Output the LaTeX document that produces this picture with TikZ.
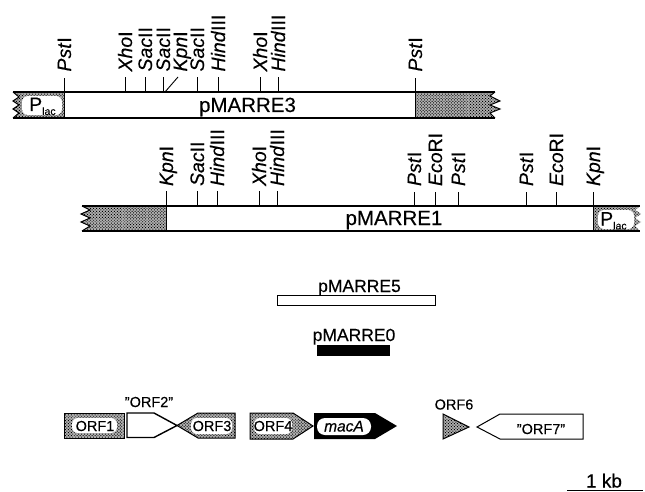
\documentclass[tikz,border=0pt]{standalone}
\usepackage{fontspec}
\setmainfont[FakeBold=0.3]{Liberation Sans}
\usetikzlibrary{patterns.meta}
\newcommand{\fsz}[1]{\fontsize{#1}{#1}\selectfont}
\newcommand{\ez}[2]{\textit{#1}#2}
\newcommand{\plac}{P\raisebox{-0.2em}{\fsz{10.5}lac}}
\tikzset{
  x=1pt,y=-1pt,
  lbl/.style={inner sep=0pt,outer sep=0pt,anchor=west,rotate=90,font=\fsz{19.5},text height=14pt,text depth=0pt},
  plasmid/.style={font=\fsz{20.5},inner sep=0pt,anchor=base},
  sub/.style={font=\fsz{17.5},inner sep=0pt,anchor=base},
  orf/.style={font=\fsz{14.5},inner sep=0pt,anchor=base},
  tick/.style={line width=0.9pt},
  edge/.style={line width=1.4pt},
  stip/.style={fill=black!30,postaction={pattern={Dots[radius=0.68pt,distance=2.1pt,angle=45]},pattern color=black}},
  hole/.style={fill=white,draw=none,rounded corners=6pt},
}
\newcommand{\site}[6]{% name, x, ybox, ytick, ylabel, text
  \coordinate (#1b) at (#2,#3);
  \coordinate (#1t) at (#2,#4);
  \node[lbl] (#1) at (#2,#5) {#6};
  \draw[tick] (#1b) -- (#1t);
}
\begin{document}
\begin{tikzpicture}
\useasboundingbox (0,0) rectangle (645,492);
% ---------- pMARRE3
\path[stip] (64,92) -- (13,92) -- (19,97) -- (13,101) -- (19,105) -- (13,109) -- (19,113) -- (13,118) -- (64,118) -- cycle;
\draw[line width=1pt] (13,92) -- (19,97) -- (13,101) -- (19,105) -- (13,109) -- (19,113) -- (13,118);
\path[stip] (415,92) -- (495,92) -- (490,96) -- (500,101) -- (490,105) -- (500,109) -- (490,113) -- (495,118) -- (415,118) -- cycle;
\draw[line width=1pt] (495,92) -- (490,96) -- (500,101) -- (490,105) -- (500,109) -- (490,113) -- (495,118);
\draw[edge] (13,92) -- (495,92) (13,118) -- (495,118);
\draw[tick] (64,92) -- (64,118) (415,92) -- (415,118);
\fill[hole] (22,96) rectangle (62,115);
\node[plasmid,anchor=base west,font=\fsz{19.5}] (p3lac) at (29,111) {\plac};
\node[plasmid] (p3) at (247.5,112) {pMARRE3};
\site{a1}{64}{92}{78}{71.5}{\ez{Pst}{I}}
\site{a2}{125}{92}{77}{71.5}{\ez{Xho}{I}}
\site{a3}{145}{92}{77}{71.5}{\ez{Sac}{II}}
\site{a4}{197}{92}{77}{71.5}{\ez{Sac}{II}}
\site{a5}{218}{92}{77}{71.5}{\ez{Hind}{III}}
\site{a6}{260}{92}{77}{71.5}{\ez{Xho}{I}}
\site{a7}{278}{92}{77}{71.5}{\ez{Hind}{III}}
\site{a8}{415}{92}{78}{71.5}{\ez{Pst}{I}}
\site{a9}{163}{92}{77}{71.5}{\ez{Sac}{II}}
\coordinate (k1) at (165,92);
\coordinate (k2) at (178,77);
\draw[tick] (k1) -- (k2);
\node[lbl] (a10) at (180,71.5) {\ez{Kpn}{I}};
% ---------- pMARRE1
\path[stip] (166,206) -- (82,206) -- (90,210) -- (81,214) -- (90,218) -- (81,222) -- (90,226) -- (82,231) -- (166,231) -- cycle;
\draw[line width=1pt] (82,206) -- (90,210) -- (81,214) -- (90,218) -- (81,222) -- (90,226) -- (82,231);
\path[stip] (593,206) -- (640,206) -- (635,210) -- (641,214) -- (635,218) -- (641,222) -- (635,226) -- (640,231) -- (593,231) -- cycle;
\draw[edge] (82,206) -- (640,206) (82,231) -- (640,231);
\draw[tick] (166,192) -- (166,231) (593,192) -- (593,231);
\fill[hole] (598,210) rectangle (634,229);
\node[plasmid,anchor=base west,font=\fsz{19.5}] (p1lac) at (600,225.5) {\plac};
\node[plasmid] (p1) at (394,225) {pMARRE1};
\site{b1}{166}{206}{191}{186}{\ez{Kpn}{I}}
\site{b2}{197}{206}{191}{186}{\ez{Sac}{II}}
\site{b3}{217}{206}{191}{186}{\ez{Hind}{III}}
\site{b4}{259}{206}{191}{186}{\ez{Xho}{I}}
\site{b5}{277}{206}{191}{186}{\ez{Hind}{III}}
\site{b6}{414}{206}{192}{186}{\ez{Pst}{I}}
\site{b7}{435}{206}{192}{186}{\ez{Eco}{RI}}
\site{b8}{458}{206}{192}{186}{\ez{Pst}{I}}
\site{b9}{526}{206}{192}{186}{\ez{Pst}{I}}
\site{b10}{556}{206}{192}{186}{\ez{Eco}{RI}}
\site{b11}{593}{206}{192}{186}{\ez{Kpn}{I}}
% ---------- subclones
\node[sub] (p5) at (359.5,292) {pMARRE5};
\draw[line width=1pt] (277,295) rectangle (435,305);
\node[sub] (p0) at (354,341) {pMARRE0};
\fill[black] (317,345) rectangle (390,356);
% ---------- ORFs
\path[stip,draw=black,line width=0.8pt] (64,413) rectangle (124,438);
\fill[hole] (72,418) rectangle (117,433);
\node[orf] (o1) at (95,431) {ORF1};
\node[orf] (o2) at (149,407) {"ORF2"};
\draw[edge,fill=white,line join=miter] (127,413) -- (154,413) -- (177,425.5) -- (154,437.5) -- (127,437.5) -- cycle;
\path[stip,draw=black,line width=1pt] (177,425.5) -- (198,413) -- (235,413) -- (235,438) -- (198,438) -- cycle;
\fill[hole] (191,418) rectangle (232,434);
\node[orf] (o3) at (212,431) {ORF3};
\path[stip,draw=black,line width=1pt] (250,413) -- (293,413) -- (313,426) -- (293,439) -- (250,439) -- cycle;
\fill[hole] (254,418) rectangle (292,434);
\node[orf] (o4) at (273,431) {ORF4};
\fill[black] (314,413) -- (375,413) -- (397,426) -- (375,439) -- (314,439) -- cycle;
\fill[hole,rounded corners=8pt] (317,418) rectangle (371,435);
\node[orf,font=\fsz{15.5}\itshape] (o5) at (344,431.5) {macA};
\node[orf] (o6) at (454,409.5) {ORF6};
\path[stip,draw=black,line width=1pt] (443,414) -- (469,427) -- (443,439) -- cycle;
\draw[line width=1pt,fill=white] (477,427) -- (500,414) -- (583,414) -- (583,439) -- (500,439) -- cycle;
\node[orf] (o7) at (541,434) {"ORF7"};
% ---------- scale
\node[plasmid,font=\fsz{19}] (sc) at (604,487.5) {1 kb};
\coordinate (s1) at (567,490.5);
\coordinate (s2) at (643,490.5);
\draw[tick] (s1) -- (s2);
\end{tikzpicture}
\end{document}
